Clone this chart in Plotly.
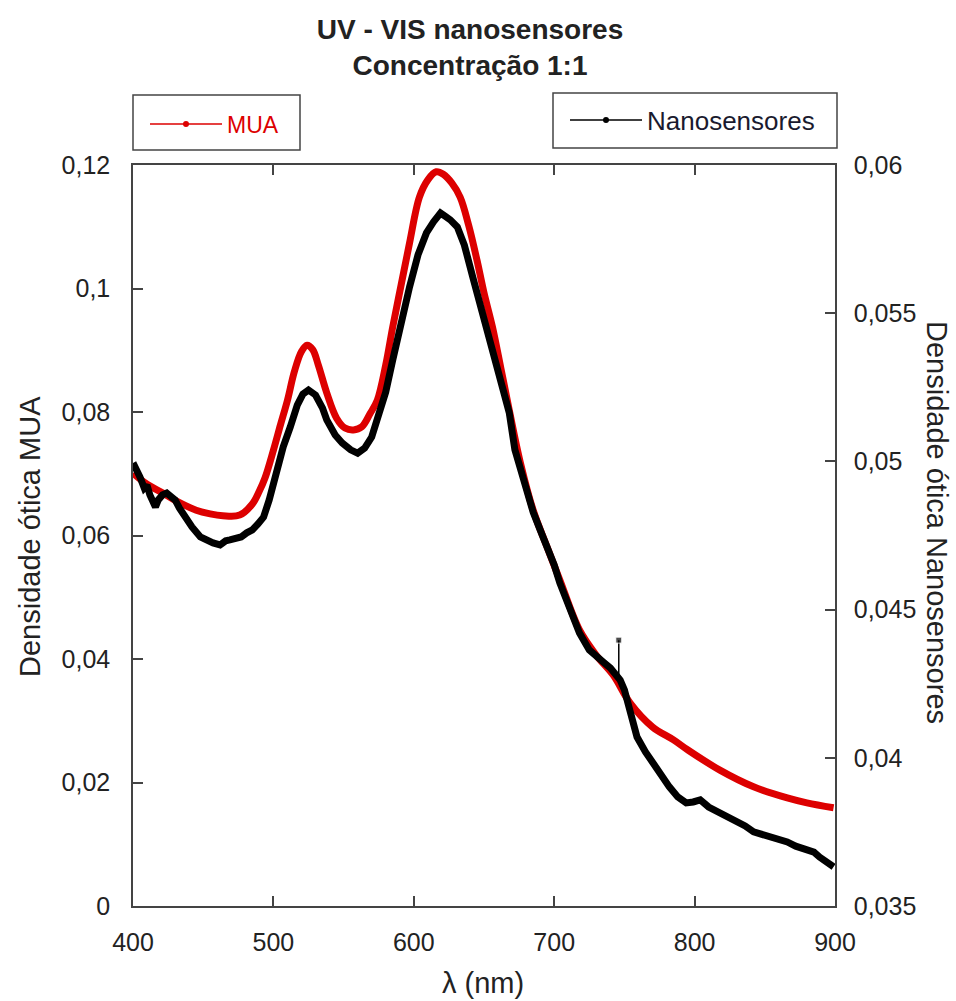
import plotly.graph_objects as go

# ---- data ----
mua_x = [400, 410, 421, 430, 445, 455, 464, 476, 485, 490, 494, 500, 505, 510, 515, 520, 524, 528, 532,
         538, 545, 551, 557, 563, 569, 574, 580, 585, 591, 597, 604, 610, 616, 621, 627, 633, 639,
         645, 650, 656, 662, 668, 676, 685, 695, 704, 718, 730, 742, 754, 770, 785, 795, 818, 842,
         866, 880, 899]
mua_y = [0.0701, 0.0683, 0.0669, 0.0657, 0.0641, 0.0635, 0.0632, 0.0633, 0.0651, 0.0672, 0.0693,
         0.0738, 0.0779, 0.0819, 0.0866, 0.0898, 0.0908, 0.0901, 0.0876, 0.0831, 0.0790, 0.0774, 0.0771,
         0.0776, 0.0798, 0.0819, 0.0876, 0.0938, 0.1006, 0.1074, 0.1148, 0.1176, 0.1189, 0.1185,
         0.1171, 0.1148, 0.1103, 0.1046, 0.0993, 0.0938, 0.0871, 0.0803, 0.0717, 0.0641, 0.0581,
         0.0528, 0.0447, 0.0406, 0.0374, 0.0329, 0.0290, 0.0269, 0.0253, 0.0220, 0.0193, 0.0175,
         0.0167, 0.0159]

nano_x = [400, 403, 405, 408, 410, 412, 414, 416, 418, 421, 424, 427, 430, 433, 437, 442, 448, 453,
          457, 462, 466, 469, 473, 477, 481, 485, 489, 493, 497, 500, 504, 507, 512, 517, 521, 525,
          530, 535, 538, 544, 549, 555, 560, 565, 570, 574, 580, 585, 591, 597, 603, 609, 614, 617,
          619, 622, 626, 631, 636, 642, 649, 656, 662, 666, 668, 672, 678, 685, 690, 695, 700, 704,
          710, 718, 725, 730, 735, 740, 744, 747, 750, 752, 755, 759, 765, 770, 776, 782, 788, 794,
          799, 804, 810, 818, 824, 830, 836, 842, 848, 854, 860, 866, 872, 880, 885, 889, 894, 899]
nano_y = [0.04995, 0.04971, 0.04947, 0.04910, 0.04920, 0.04887, 0.04870, 0.04846, 0.04870, 0.04887,
          0.04893, 0.04880, 0.04870, 0.04843, 0.04812, 0.04779, 0.04745, 0.04732, 0.04725, 0.04718,
          0.04732, 0.04735, 0.04742, 0.04745, 0.04759, 0.04769, 0.04789, 0.04812, 0.04870, 0.04927,
          0.04998, 0.05049, 0.05116, 0.05190, 0.05227, 0.05241, 0.05224, 0.05180, 0.05140, 0.05089,
          0.05062, 0.05039, 0.05028, 0.05045, 0.05082, 0.05140, 0.05234, 0.05342, 0.05470, 0.05589,
          0.05697, 0.05771, 0.05808, 0.05828, 0.05838, 0.05828, 0.05815, 0.05791, 0.05730, 0.05622,
          0.05501, 0.05376, 0.05258, 0.05190, 0.05164, 0.05039, 0.04937, 0.04829, 0.04769, 0.04711,
          0.04651, 0.04590, 0.04516, 0.04421, 0.04364, 0.04340, 0.04323, 0.04303, 0.04279, 0.04262,
          0.04229, 0.04195, 0.04128, 0.04070, 0.04020, 0.03983, 0.03942, 0.03902, 0.03868, 0.03848,
          0.03851, 0.03858, 0.03834, 0.03814, 0.03801, 0.03790, 0.03770, 0.03750, 0.03743, 0.03733,
          0.03726, 0.03716, 0.03702, 0.03689, 0.03682, 0.03665, 0.03648, 0.03632]

spike_x = [746, 746]
spike_y = [0.04279, 0.04397]

x_ticks = [400, 500, 600, 700, 800, 900]
y1_ticks = [0, 0.02, 0.04, 0.06, 0.08, 0.1, 0.12]
y1_labels = ["0", "0,02", "0,04", "0,06", "0,08", "0,1", "0,12"]
y2_ticks = [0.035, 0.04, 0.045, 0.05, 0.055, 0.06]
y2_labels = ["0,035", "0,04", "0,045", "0,05", "0,055", "0,06"]

RED = "#dd0000"
BLACK = "#000000"
AXC = "#444444"
FONT = "Liberation Sans, Arial, sans-serif"

fig = go.Figure()
fig.add_trace(go.Scatter(x=mua_x, y=mua_y, mode="lines", line=dict(color=RED, width=7, shape="spline", smoothing=1.0),
                         showlegend=False, yaxis="y"))
fig.add_trace(go.Scatter(x=nano_x, y=nano_y, mode="lines", line=dict(color=BLACK, width=7),
                         showlegend=False, yaxis="y2"))
fig.add_trace(go.Scatter(x=spike_x, y=spike_y, mode="lines+markers", line=dict(color=BLACK, width=1.5),
                         marker=dict(symbol="square", size=[0, 6], color=BLACK),
                         showlegend=False, yaxis="y2"))
# legend entries
fig.add_trace(go.Scatter(x=[None], y=[None], mode="lines+markers", name="MUA",
                         line=dict(color=RED, width=1.5), marker=dict(color=RED, size=6, symbol="circle"),
                         legend="legend", yaxis="y"))
fig.add_trace(go.Scatter(x=[None], y=[None], mode="lines+markers", name="Nanosensores",
                         line=dict(color=BLACK, width=1.5), marker=dict(color=BLACK, size=6, symbol="circle"),
                         legend="legend2", yaxis="y2"))

fig.update_layout(
    width=956, height=1001,
    margin=dict(l=133, r=121, t=165, b=95),
    paper_bgcolor="white", plot_bgcolor="white",
    font=dict(family=FONT, size=25, color="#222222"),
    title=dict(text="<b>UV - VIS nanosensores<br>Concentração 1:1</b>", x=470/956, xanchor="center",
               y=1 - 39/1001, yanchor="middle", yref="container", font=dict(size=28, color="#222222")),
    xaxis=dict(range=[400, 900], tickvals=x_ticks, ticks="inside", ticklen=10, tickwidth=1.5, tickcolor=AXC,
               showline=True, linecolor=AXC, linewidth=1.5, mirror="ticks", showgrid=False, zeroline=False,
               ticklabelstandoff=13, tickfont=dict(size=25)),
    yaxis=dict(range=[0, 0.12], tickvals=y1_ticks, ticktext=y1_labels, ticks="inside", ticklen=10, tickwidth=1.5,
               tickcolor=AXC, showline=True, linecolor=AXC, linewidth=1.5, showgrid=False, zeroline=False,
               ticklabelstandoff=16, tickfont=dict(size=25)),
    yaxis2=dict(range=[0.035, 0.06], tickvals=y2_ticks, ticktext=y2_labels, ticks="inside", ticklen=10,
                tickwidth=1.5, tickcolor=AXC, showline=True, linecolor=AXC, linewidth=1.5, showgrid=False,
                zeroline=False, overlaying="y", side="right", ticklabelstandoff=12, tickfont=dict(size=25)),
    legend=dict(x=(145-133)/702, y=(906-124)/741, xanchor="left", yanchor="middle", bgcolor="rgba(0,0,0,0)",
                borderwidth=0, itemwidth=72, font=dict(size=23, color=RED)),
    legend2=dict(x=(565-133)/702, y=(906-120)/741, xanchor="left", yanchor="middle", bgcolor="rgba(0,0,0,0)",
                 borderwidth=0, itemwidth=72, font=dict(size=26, color="#1a1a2e")),
    shapes=[
        dict(type="rect", xref="paper", yref="paper", x0=0, x1=(300-133)/702, y0=(906-150)/741, y1=(906-95)/741,
             line=dict(color=AXC, width=1.5)),
        dict(type="rect", xref="paper", yref="paper", x0=(553-133)/702, x1=(837-133)/702, y0=(906-148)/741,
             y1=(906-93)/741, line=dict(color=AXC, width=1.5)),
    ],
    annotations=[
        dict(text="Densidade ótica MUA", xref="paper", yref="paper", x=(30-133)/702, y=(906-537)/741,
             textangle=-90, showarrow=False, xanchor="center", yanchor="middle", font=dict(size=29)),
        dict(text="Densidade ótica Nanosensores", xref="paper", yref="paper", x=(937-133)/702, y=(906-522)/741,
             textangle=90, showarrow=False, xanchor="center", yanchor="middle", font=dict(size=29)),
        dict(text="λ (nm)", xref="paper", yref="paper", x=(483-133)/702, y=(906-983)/741,
             showarrow=False, xanchor="center", yanchor="middle", font=dict(size=29)),
    ],
)

fig.write_html("out.html")
